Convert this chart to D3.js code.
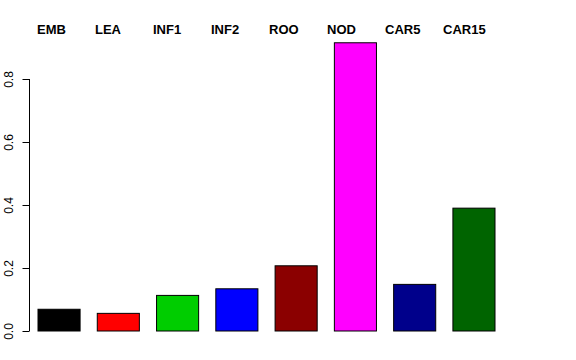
<!DOCTYPE html>
<html>
<head>
<meta charset="utf-8">
<script src="https://cdn.jsdelivr.net/npm/d3@7"></script>
<style>
  body { margin: 0; background: #fff; }
  text { font-family: "Liberation Sans", Arial, Helvetica, sans-serif; }
</style>
</head>
<body>
<div id="chart"></div>
<script>
const categories = ['EMB', 'LEA', 'INF1', 'INF2', 'ROO', 'NOD', 'CAR5', 'CAR15'];
const values = [0.069, 0.056, 0.113, 0.134, 0.207, 0.915, 0.148, 0.390];
const colors = ['#000000', '#FF0000', '#00CD00', '#0000FF', '#8B0000', '#FF00FF', '#00008B', '#006400'];
const yTicks = [0, 0.2, 0.4, 0.6, 0.8];

const width = 576, height = 360;

const svg = d3.select('#chart')
    .append('svg')
    .attr('width', width)
    .attr('height', height);

const y = d3.scaleLinear().domain([0, 1]).range([331, 16]);

const x = d3.scaleBand()
    .domain(categories)
    .range([38, 495])
    .paddingInner(0.29)
    .paddingOuter(0);

// label positions (left aligned, slightly tighter spacing than bars)
const xLab = d3.scalePoint()
    .domain(categories)
    .range([37, 443]);

svg.selectAll('rect.bar')
    .data(values)
    .join('rect')
    .attr('class', 'bar')
    .attr('x', (d, i) => x(categories[i]))
    .attr('y', d => y(d))
    .attr('width', x.bandwidth())
    .attr('height', d => y(0) - y(d))
    .attr('fill', (d, i) => colors[i])
    .attr('stroke', '#000')
    .attr('stroke-width', 1);

svg.selectAll('text.cat')
    .data(categories)
    .join('text')
    .attr('class', 'cat')
    .attr('x', d => xLab(d))
    .attr('y', 34)
    .attr('font-size', 13)
    .attr('font-weight', 'bold')
    .text(d => d);

// y axis, R style
const axis = d3.axisLeft(y)
    .tickValues(yTicks)
    .tickFormat(d3.format('.1f'))
    .tickSize(7)
    .tickSizeOuter(0);

const gy = svg.append('g')
    .attr('transform', 'translate(29.5,0)')
    .call(axis);
gy.select('.domain').attr('d', `M0,${y(0)}V${y(0.8)}`).attr('stroke', '#000');
gy.selectAll('.tick line').attr('stroke', '#000');
gy.selectAll('.tick text')
    .attr('font-size', 12)
    .attr('font-family', '"Liberation Sans", Arial, sans-serif')
    .attr('fill', '#000')
    .attr('transform', 'rotate(-90)')
    .attr('x', 0)
    .attr('y', -17)
    .attr('dy', 0)
    .attr('text-anchor', 'middle');
</script>
</body>
</html>
